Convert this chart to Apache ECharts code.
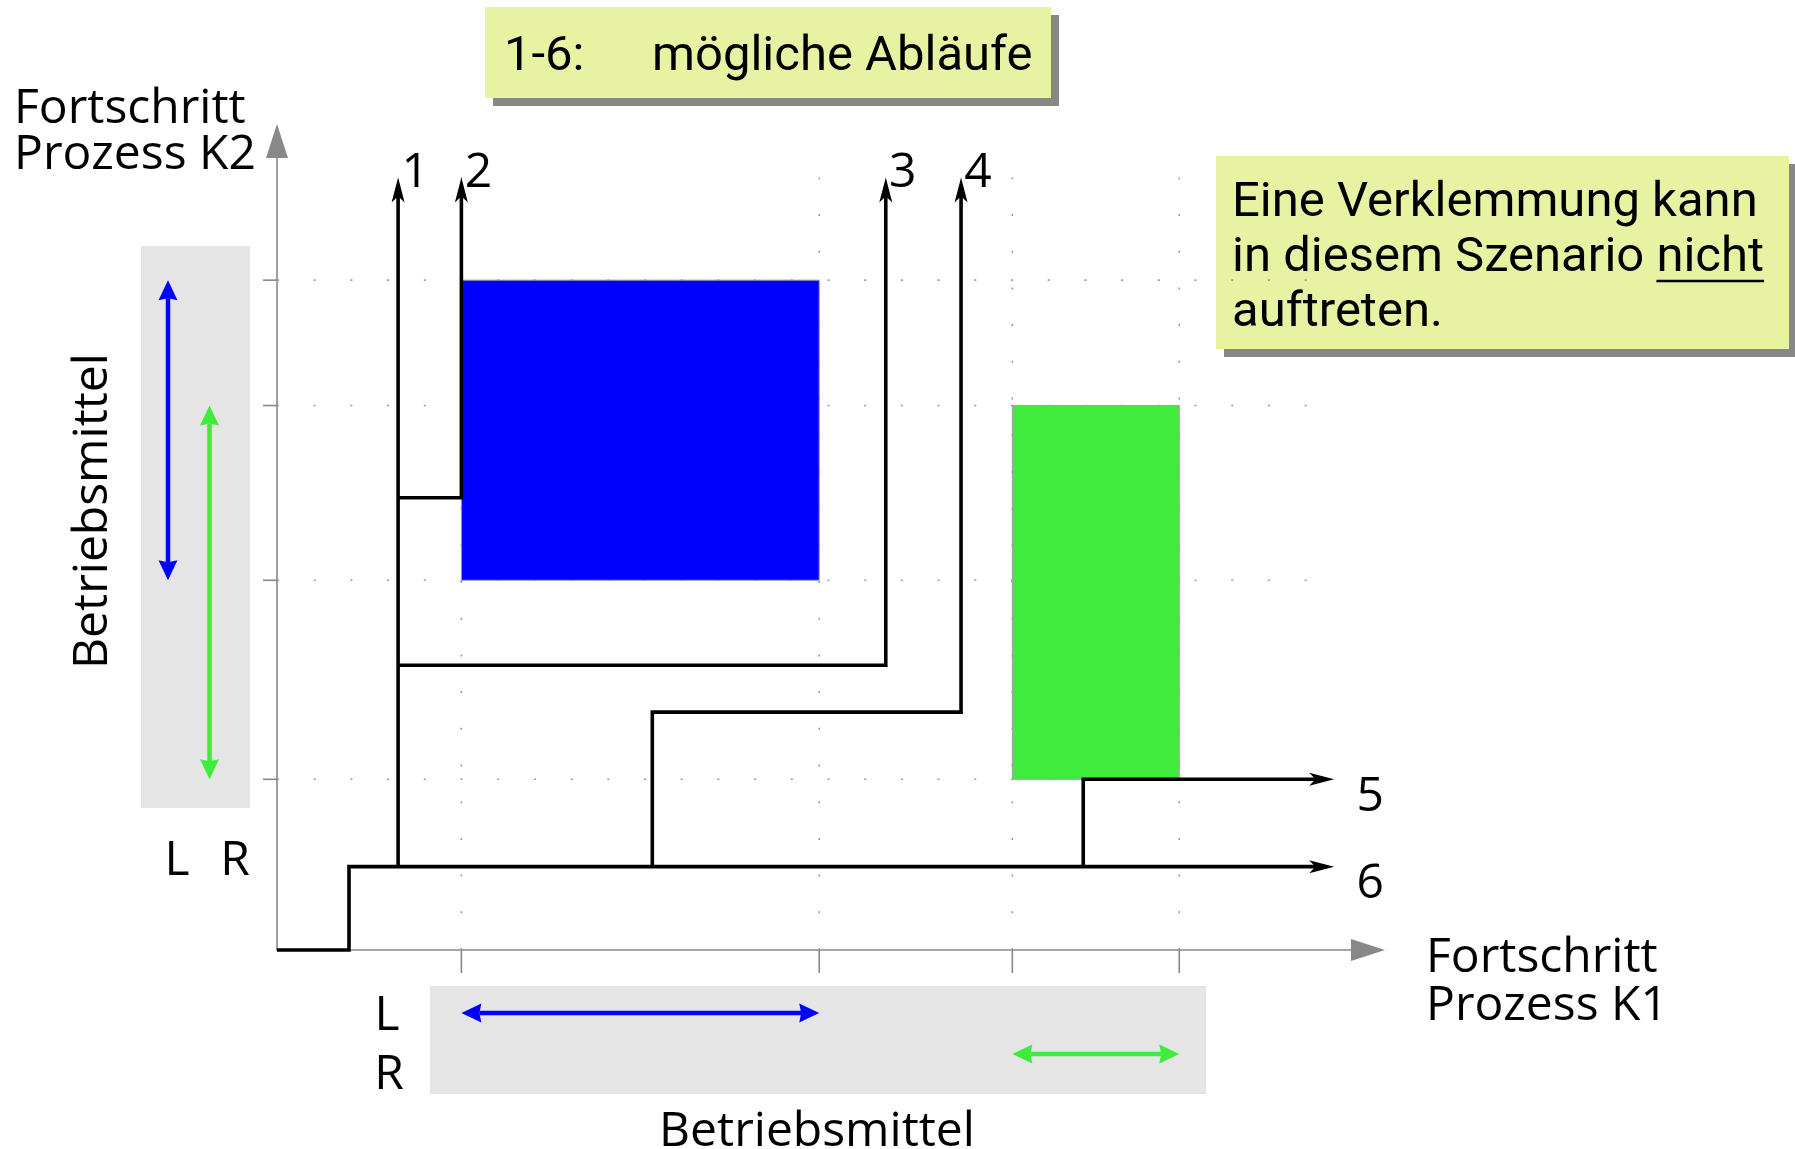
<!DOCTYPE html>
<html><head><meta charset="utf-8">
<script src="https://cdn.jsdelivr.net/npm/echarts@6/dist/echarts.min.js"></script>
<style>html,body{margin:0;padding:0;background:#fff}#c{width:1795px;height:1149px}</style>
</head><body><div id="c"></div>
<script>
// ---------- data (progress units of K1 on x, K2 on y) ----------
const resX = [16.9, 49.7, 67.4, 82.7];          // resource boundaries along K1
const resY = [21.1, 45.7, 67.3, 82.8];          // resource boundaries along K2
const blueBlock  = [16.9, 45.7, 49.7, 82.8];    // x1, y1, x2, y2 (resource L)
const greenBlock = [67.4, 21.1, 82.7, 67.3];    // x1, y1, x2, y2 (resource R)
const pathNames = ['1', '2', '3', '4', '5', '6'];
const path1 = [[11.1, 10.3], [11.1, 95.5]];
const path2 = [[11.1, 55.9], [16.9, 55.9], [16.9, 95.5]];
const path3 = [[11.1, 35.2], [55.8, 35.2], [55.8, 95.5]];
const path4 = [[34.4, 10.3], [34.4, 29.4], [62.7, 29.4], [62.7, 95.5]];
const path5 = [[73.9, 10.3], [73.9, 21.1], [96.9, 21.1]];
const path6 = [[0, 0], [6.6, 0], [6.6, 10.3], [96.9, 10.3]];
const gridEndX = 97.4, gridEndY = 95.5;
const paths = [path1, path2, path3, path4, path5, path6];

// ---------- styles ----------
const AX = '#888888';
const BLUE = '#0000FF', GREEN = '#3FEB3B';
const LABEL_FONT = '48px "Open Sans"';
const BOX_FONT = '49px Roboto';
const BOX_FILL = '#E8F2A3', SHADOW = '#878787', PANEL = '#E5E5E5';

function unit(a, b) { const dx = b[0] - a[0], dy = b[1] - a[1]; const l = Math.hypot(dx, dy) || 1; return [dx / l, dy / l]; }
function head(tip, d, len, w, notch) {
  const nx = -d[1], ny = d[0];
  const bx = tip[0] - d[0] * len, by = tip[1] - d[1] * len;
  const pts = [tip, [bx + nx * w / 2, by + ny * w / 2]];
  if (notch) pts.push([tip[0] - d[0] * len * notch, tip[1] - d[1] * len * notch]);
  pts.push([bx - nx * w / 2, by - ny * w / 2]);
  return pts;
}
function dblArrow(a, b, color) {
  const d = unit(a, b), len = 20, w = 19;
  const a2 = [a[0] + d[0] * (len - 2), a[1] + d[1] * (len - 2)];
  const b2 = [b[0] - d[0] * (len - 2), b[1] - d[1] * (len - 2)];
  return [
    { type: 'line', shape: { x1: a2[0], y1: a2[1], x2: b2[0], y2: b2[1] }, style: { stroke: color, lineWidth: 4.5 } },
    { type: 'polygon', shape: { points: head(b, d, len, w, 0.9) }, style: { fill: color } },
    { type: 'polygon', shape: { points: head(a, [-d[0], -d[1]], len, w, 0.9) }, style: { fill: color } }
  ];
}

const chart = echarts.init(document.getElementById('c'));

const axisCommon = {
  type: 'value', min: 0, max: 100,
  axisLine: { show: true, lineStyle: { color: AX, width: 1.6 }, symbol: ['none', 'triangle'], symbolSize: [22, 34] },
  axisTick: { show: false }, axisLabel: { show: false }, splitLine: { show: false }
};

// measure underline for "nicht"
const mctx = document.createElement('canvas').getContext('2d');
mctx.font = BOX_FONT;
const preW = mctx.measureText('in diesem Szenario ').width;
const nichtW = mctx.measureText('nicht').width;

function txt(x, y, text, font, align, extra) {
  return Object.assign({ type: 'text', x: x, y: y, style: { text: text, font: font, fill: '#000', align: align, verticalAlign: 'middle', textAlign: align, textVerticalAlign: 'middle' } }, extra || {});
}

const option = {
  backgroundColor: '#ffffff',
  animation: false,
  grid: { left: 277, top: 141, width: 1091, height: 809, containLabel: false },
  xAxis: axisCommon,
  yAxis: axisCommon,
  graphic: [
    // gray resource panels
    { type: 'rect', z: -10, shape: { x: 141, y: 246, width: 109, height: 562 }, style: { fill: PANEL } },
    { type: 'rect', z: -10, shape: { x: 430, y: 986, width: 776, height: 108 }, style: { fill: PANEL } },
    // title box
    { type: 'rect', shape: { x: 493, y: 15, width: 566, height: 91 }, style: { fill: SHADOW } },
    { type: 'rect', shape: { x: 485, y: 7, width: 566, height: 91 }, style: { fill: BOX_FILL } },
    txt(504, 58, '1-6:', BOX_FONT, 'left'),
    txt(652, 58, 'mögliche Abläufe', BOX_FONT, 'left'),
    // note box
    { type: 'rect', shape: { x: 1224, y: 164, width: 573, height: 193 }, style: { fill: SHADOW } },
    { type: 'rect', shape: { x: 1216, y: 156, width: 573, height: 193 }, style: { fill: BOX_FILL } },
    txt(1232, 204, 'Eine Verklemmung kann', BOX_FONT, 'left'),
    txt(1232, 259, 'in diesem Szenario nicht', BOX_FONT, 'left'),
    txt(1232, 314, 'auftreten.', BOX_FONT, 'left'),
    { type: 'line', shape: { x1: 1232 + preW, y1: 281, x2: 1232 + preW + nichtW, y2: 281 }, style: { stroke: '#000', lineWidth: 2.5 } },
    // axis titles
    txt(14, 109, 'Fortschritt', LABEL_FONT, 'left'),
    txt(14, 155, 'Prozess K2', LABEL_FONT, 'left'),
    txt(1426, 958, 'Fortschritt', LABEL_FONT, 'left'),
    txt(1426, 1006, 'Prozess K1', LABEL_FONT, 'left'),
    txt(817, 1132, 'Betriebsmittel', LABEL_FONT, 'center'),
    txt(93, 511, 'Betriebsmittel', LABEL_FONT, 'center', { rotation: Math.PI / 2 }),
    // L / R labels
    txt(177, 861, 'L', LABEL_FONT, 'center'),
    txt(235, 861, 'R', LABEL_FONT, 'center'),
    txt(387, 1016, 'L', LABEL_FONT, 'center'),
    txt(389, 1075, 'R', LABEL_FONT, 'center')
  ],
  series: [
    { // dotted guide lines
      type: 'custom', coordinateSystem: 'cartesian2d', z: 1, silent: true,
      data: resY.map((v, i) => [0, v, i]).concat(resX.map((v, i) => [v, 0, resY.length + i])),
      encode: { x: 0, y: 1 },
      renderItem: function (params, api) {
        const k = api.value(2);
        let a, b;
        if (k < resY.length) { a = api.coord([0, resY[k]]); b = api.coord([gridEndX, resY[k]]); }
        else { const x = resX[k - resY.length]; a = api.coord([x, 0]); b = api.coord([x, gridEndY]); }
        return { type: 'line', shape: { x1: a[0], y1: a[1], x2: b[0], y2: b[1] }, style: { stroke: '#9a9a9a', lineWidth: 1.6, lineDash: [2, 34.7] } };
      }
    },
    { // axis ticks at resource boundaries
      type: 'custom', coordinateSystem: 'cartesian2d', z: 3, silent: true,
      data: resY.map((v, i) => [0, v, i]).concat(resX.map((v, i) => [v, 0, resY.length + i])),
      encode: { x: 0, y: 1 },
      renderItem: function (params, api) {
        const k = api.value(2);
        if (k < resY.length) { const p = api.coord([0, resY[k]]); return { type: 'line', shape: { x1: p[0] - 14, y1: p[1], x2: p[0], y2: p[1] }, style: { stroke: AX, lineWidth: 1.6 } }; }
        const p = api.coord([resX[k - resY.length], 0]);
        return { type: 'line', shape: { x1: p[0], y1: p[1], x2: p[0], y2: p[1] + 23 }, style: { stroke: AX, lineWidth: 1.6 } };
      }
    },
    { // blocked regions
      type: 'custom', coordinateSystem: 'cartesian2d', z: 2, silent: true,
      data: [[blueBlock[0], blueBlock[1], 0], [greenBlock[0], greenBlock[1], 1]],
      encode: { x: 0, y: 1 },
      renderItem: function (params, api) {
        const b = api.value(2) === 0 ? blueBlock : greenBlock;
        const p1 = api.coord([b[0], b[3]]), p2 = api.coord([b[2], b[1]]);
        return { type: 'rect', shape: { x: p1[0], y: p1[1], width: p2[0] - p1[0], height: p2[1] - p1[1] },
          style: { fill: api.value(2) === 0 ? BLUE : GREEN, stroke: '#a0a0a0', lineWidth: 1 } };
      }
    },
    { // possible progress paths
      type: 'custom', coordinateSystem: 'cartesian2d', z: 5, silent: true,
      data: paths.map((p, i) => [p[p.length - 1][0], p[p.length - 1][1], i]),
      encode: { x: 0, y: 1 },
      renderItem: function (params, api) {
        const i = api.value(2);
        const p = paths[i].map(pt => api.coord(pt));
        const tip = p[p.length - 1];
        const d = unit(p[p.length - 2], tip);
        const len = 25, w = 13;
        const pts = p.slice(0, -1).concat([[tip[0] - d[0] * len * 0.7, tip[1] - d[1] * len * 0.7]]);
        const vertical = Math.abs(d[1]) > 0.5;
        const lp = vertical ? [tip[0] + 17, tip[1] - 4] : [tip[0] + 36, tip[1] + 18];
        return { type: 'group', children: [
          { type: 'polyline', shape: { points: pts }, style: { stroke: '#000', lineWidth: 3.6, fill: 'none', lineJoin: 'miter' } },
          { type: 'polygon', shape: { points: head(tip, d, len, w, 0.75) }, style: { fill: '#000' } },
          { type: 'text', style: { text: pathNames[i], x: lp[0], y: lp[1], font: LABEL_FONT, fill: '#000', align: 'center', verticalAlign: 'middle', textAlign: 'center', textVerticalAlign: 'middle' } }
        ] };
      }
    },
    { // resource usage ranges (double arrows in side panels)
      type: 'custom', coordinateSystem: 'cartesian2d', z: 4, silent: true,
      data: [[blueBlock[0], 0, 0], [greenBlock[0], 0, 1], [0, blueBlock[1], 2], [0, greenBlock[1], 3]],
      encode: { x: 0, y: 1 },
      renderItem: function (params, api) {
        const k = api.value(2);
        if (k < 2) {
          const b = k === 0 ? blueBlock : greenBlock;
          const yPix = k === 0 ? 1013 : 1054;
          const a = [api.coord([b[0], 0])[0], yPix], c = [api.coord([b[2], 0])[0], yPix];
          return { type: 'group', children: dblArrow(a, c, k === 0 ? BLUE : GREEN) };
        }
        const b = k === 2 ? blueBlock : greenBlock;
        const xPix = k === 2 ? 168 : 209.5;
        const a = [xPix, api.coord([0, b[3]])[1]], c = [xPix, api.coord([0, b[1]])[1]];
        return { type: 'group', children: dblArrow(a, c, k === 2 ? BLUE : GREEN) };
      }
    }
  ]
};
chart.setOption(option);
</script>
</body></html>
